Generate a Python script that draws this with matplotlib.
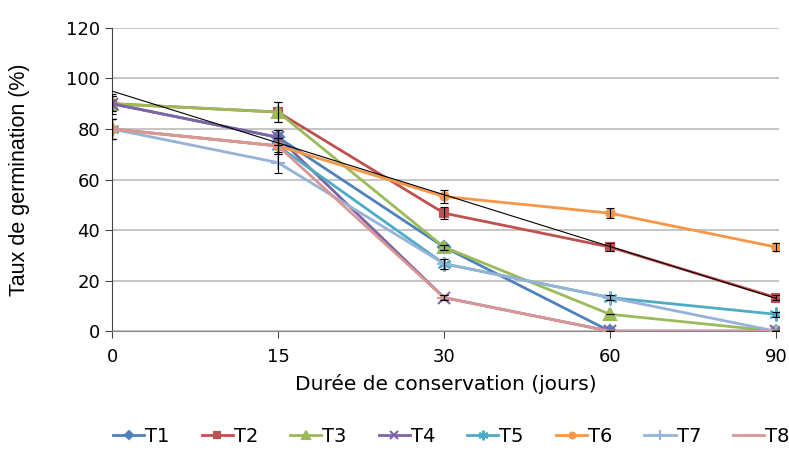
import matplotlib
matplotlib.use("Agg")
import matplotlib.pyplot as plt

plt.rcParams['font.family'] = ['DejaVu Sans']

# durées de conservation (jours)
jours = ['0', '15', '30', '60', '90']

t1 = [90, 76.7, 33.3, 0, 0]
t2 = [90, 86.7, 46.7, 33.3, 13.3]
t3 = [90, 86.7, 33.3, 6.7, 0]
t4 = [90, 76.7, 13.3, 0, 0]
t5 = [80, 73.3, 26.7, 13.3, 6.7]
t6 = [80, 73.3, 53.3, 46.7, 33.3]
t7 = [80, 66.7, 26.7, 13.3, 0]
t8 = [80, 73.3, 13.3, 0, 0]

err1 = [3, 3, 1, 0, 0]
err2 = [3, 4, 2.5, 1.5, 1]
err3 = [4, 4, 1, 0, 0]
err4 = [3, 3, 1, 0, 0]
err5 = [4, 3, 2, 1, 1]
err6 = [4, 3, 2.5, 2, 1.5]
err7 = [4, 4.3, 2, 1, 0]
err8 = [4, 3, 1, 0, 0]

# courbe de tendance linéaire (trait noir)
tendance = [95, 74.5, 54, 33.5, 13]

series = [
    ('T1', t1, err1, '#4F81BD', 'D', 6),
    ('T2', t2, err2, '#C0504D', 's', 6),
    ('T3', t3, err3, '#9BBB59', '^', 8),
    ('T4', t4, err4, '#8064A2', 'x', 8),
    ('T5', t5, err5, '#4BACC6', (6, 2, 0), 10),
    ('T6', t6, err6, '#F79646', 'o', 6),
    ('T7', t7, err7, '#95B3D7', '+', 10),
    ('T8', t8, err8, '#D99694', '_', 10),
]

fig = plt.figure(figsize=(7.89, 4.5), dpi=100)
ax = fig.add_axes([0.142, 0.264, 0.8457, 0.674])

x = list(range(len(jours)))
for nom, vals, err, col, mk, ms in series:
    ax.errorbar(x, vals, yerr=err, fmt='none', ecolor='black', elinewidth=0.8,
                capsize=3, capthick=0.8, zorder=4)
    ax.plot(x, vals, color=col, marker=mk, markersize=ms, lw=2,
            markeredgewidth=1.5, label=nom, zorder=3)

ax.plot(x, tendance, color='black', lw=0.8, zorder=5)

ax.set_xlim(0, 4.02)
ax.set_ylim(0, 120)
ax.set_yticks(range(0, 121, 20))
ax.set_xticks(x)
ax.set_xticklabels(jours)
ax.yaxis.grid(True, color='#BBBBBB', lw=1.2)
ax.set_axisbelow(True)
for s in ['top', 'right']:
    ax.spines[s].set_visible(False)
ax.spines['left'].set_color('#444444')
ax.spines['bottom'].set_color('#888888')
ax.tick_params(labelsize=13, length=5, color='#444444')
ax.tick_params(axis='x', pad=7)

ax.set_xlabel('Durée de conservation (jours)', fontsize=14.5, labelpad=6)
ax.set_ylabel('Taux de germination (%)', fontsize=15.5, labelpad=26,
              family='Liberation Sans')

fig.legend(loc='lower center', bbox_to_anchor=(0.572, -0.03), ncol=8,
           frameon=False, fontsize=14, handlelength=1.6, handletextpad=0.05,
           columnspacing=1.65, markerscale=0.7)

fig.savefig('out.png', dpi=100)
